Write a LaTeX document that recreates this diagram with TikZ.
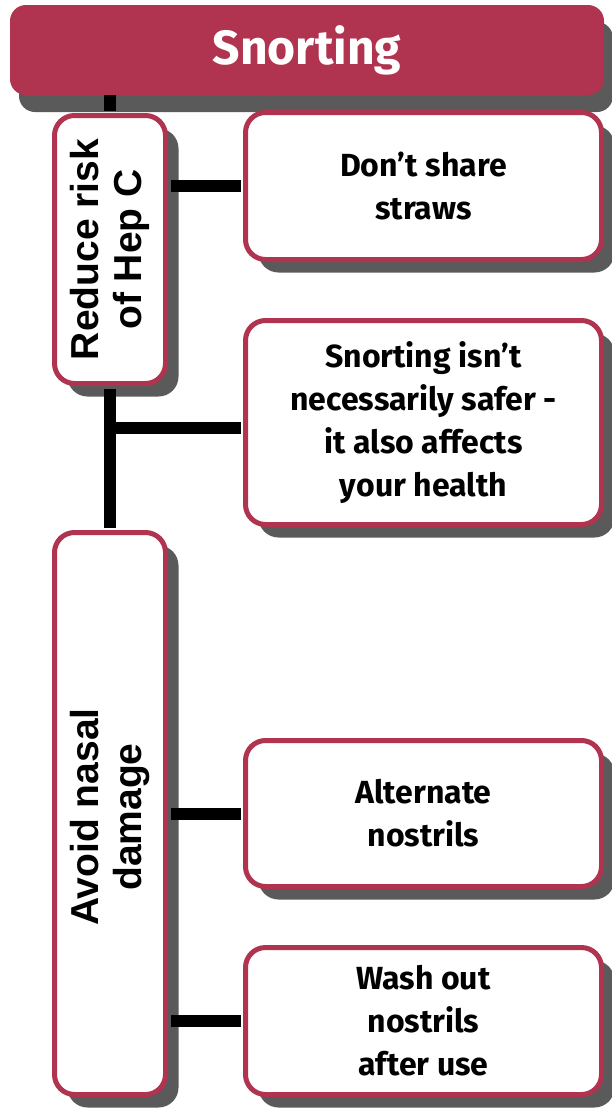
\documentclass[tikz,border=0pt]{standalone}
\usepackage{fontspec}
\setsansfont{Fira Sans}
\newfontfamily\sidefont{Liberation Sans}
\usetikzlibrary{positioning}
\usetikzlibrary{shadows}

\definecolor{snortred}{HTML}{B0334F}
\definecolor{shadowgray}{HTML}{5A5A5A}

\tikzset{
  headbox/.style={fill=snortred, text=white, rounded corners=16pt,
    minimum width=594pt, minimum height=90pt,
    font=\sffamily\bfseries\fontsize{48}{48}\selectfont,
    drop shadow={shadow xshift=9pt, shadow yshift=-17pt, fill=shadowgray, opacity=1}},
  card/.style={draw=snortred, line width=5pt, fill=white, rounded corners=20pt,
    minimum width=356pt, align=center,
    font=\sffamily\bfseries\fontsize{32}{43}\selectfont,
    drop shadow={shadow xshift=13pt, shadow yshift=-13pt, fill=shadowgray, opacity=1}},
  sidebox/.style={card, minimum width=111pt},
  sidetext/.style={rotate=90, align=center,
    font=\sidefont\bfseries\fontsize{39}{43}\selectfont},
  link/.style={line width=12pt, shorten >=2.5pt},
}

\begin{document}
\begin{tikzpicture}[x=1pt, y=-1pt]
  \useasboundingbox (0,0) rectangle (611,1111);
  \def\lx{110}
  \def\rx{423.5}

  \node[headbox] (title) at (307,50) {Snorting};

  \node[sidebox, minimum height=268pt] (reduce) at (\lx,249.5) {};
  \node[sidetext] (reducetext) at (reduce) {Reduce risk\\of Hep C};
  \node[sidebox, minimum height=562pt] (avoid) at (\lx,813.5) {};
  \node[sidetext] (avoidtext) at (\lx,817) {Avoid nasal\\damage};

  \node[card, minimum height=147pt] (straws) at (\rx,186) {Don’t share\\straws};
  \node[card, minimum height=204pt] (safer) at (\rx,422.5)
    {Snorting isn’t\\necessarily safer -\\it also affects\\your health};
  \node[card, minimum height=146pt] (alternate) at (\rx,813.5) {Alternate\\nostrils};
  \node[card, minimum height=147pt] (wash) at (\rx,1021)
    {Wash out\\nostrils\\after use};

  \coordinate (fork) at (\lx,428);
  \draw[link] (title.south -| reduce.north) -- (reduce.north);
  \draw[link, shorten <=2.5pt] (reduce.south) -- (avoid.north);
  \draw[link] (fork) -- (fork -| safer.west);
  \draw[link, shorten <=2.5pt] (straws.west -| reduce.east) -- (straws.west);
  \draw[link, shorten <=2.5pt] (alternate.west -| avoid.east) -- (alternate.west);
  \draw[link, shorten <=2.5pt] (wash.west -| avoid.east) -- (wash.west);
\end{tikzpicture}
\end{document}
